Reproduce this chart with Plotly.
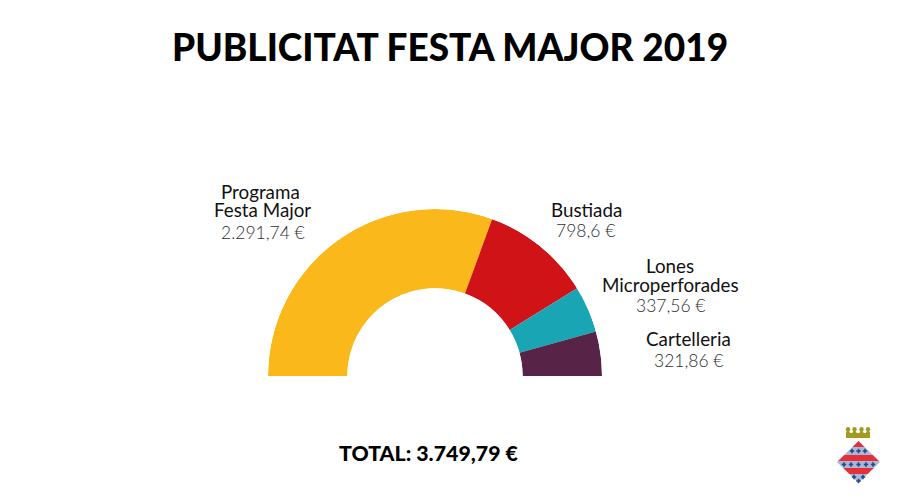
import numpy as np
import plotly.graph_objects as go

W, H = 900, 499
PAGE_MARGIN = 8  # the browser's body margin pushes the figure right and down

categories = ['Programa Festa Major', 'Bustiada', 'Lones Microperforades', 'Cartelleria']
values = [2291.74, 798.6, 337.56, 321.86]
value_labels = ['2.291,74 €', '798,6 €', '337,56 €', '321,86 €']
colors = ['#fbb81b', '#d01317', '#1aa5b4', '#572347']
title_text = 'PUBLICITAT FESTA MAJOR 2019'
total_text = 'TOTAL: 3.749,79 €'

# half donut: the slices share 180 degrees
spans = np.array(values) / sum(values) * 180
centers = np.cumsum(spans) - spans / 2


def fx(x):
    return (x - PAGE_MARGIN) / W


def fy(y):
    return 1 - (y - PAGE_MARGIN) / H


fig = go.Figure(go.Barpolar(
    r=[1] * len(values),
    theta=centers,
    width=spans,
    text=categories,
    marker=dict(color=colors, line=dict(width=0)),
    hoverinfo='text',
))

fig.update_layout(
    width=W, height=H, showlegend=False,
    paper_bgcolor='white',
    margin=dict(l=0, r=0, t=0, b=0),
    polar=dict(
        domain=dict(x=[fx(268), fx(602)], y=[fy(376), fy(209)]),
        sector=[0, 180],
        hole=0.525,
        bgcolor='white',
        radialaxis=dict(visible=False, range=[0, 1]),
        angularaxis=dict(visible=False, direction='clockwise', rotation=180),
    ),
)


def note(text, x, y, size, color='#111111', weight=400):
    fig.add_annotation(text=text, x=fx(x), y=fy(y), xref='paper', yref='paper',
                       showarrow=False, xanchor='center', yanchor='middle',
                       font=dict(family='Lato', size=size, color=color, weight=weight))


VALUE_COLOR = '#2e2e32'

note(title_text, 450, 47, 37, '#000000', 900)
note(total_text, 429, 453, 21.3, '#000000', 900)

# label lines
note('Programa', 261, 192, 18.8)
note('Festa Major', 262, 210, 18.8)
note(value_labels[0], 263, 232, 17.5, VALUE_COLOR, 300)
note('Bustiada', 586, 210, 18.8)
note(value_labels[1], 585, 230, 17.5, VALUE_COLOR, 300)
note('Lones', 670, 265, 18.8)
note('Microperforades', 670, 284, 18.8)
note(value_labels[2], 670, 305, 17.5, VALUE_COLOR, 300)
note('Cartelleria', 688, 338, 18.8)
note(value_labels[3], 688, 360, 17.5, VALUE_COLOR, 300)


# coat of arms, drawn in page pixels
def poly(points, color):
    path = 'M' + ' L'.join(f'{fx(x):.4f},{fy(y):.4f}' for x, y in points) + ' Z'
    fig.add_shape(type='path', path=path, xref='paper', yref='paper',
                  fillcolor=color, line_width=0)


def band(y0, y1, color):
    cx, cy, half_w, half_h = 858.5, 462, 21.5, 21
    pts = []
    for y in [y0, y1]:
        d = half_w * (1 - abs(y - cy) / half_h)
        pts.append((cx - d, y))
    if y0 < cy < y1:
        pts.insert(1, (cx - half_w, cy))
    right = [(2 * cx - x, y) for x, y in reversed(pts)]
    poly(pts + right, color)


def cross(x, y):
    poly([(x - 2.2, y - 0.8), (x + 2.2, y - 0.8), (x + 2.2, y + 0.8), (x - 2.2, y + 0.8)], '#1f4a8c')
    poly([(x - 0.8, y - 2.2), (x + 0.8, y - 2.2), (x + 0.8, y + 2.2), (x - 0.8, y + 2.2)], '#1f4a8c')


band(441, 447, '#e5303a')
band(447, 455, '#a9b8d6')
band(455, 461, '#e5303a')
band(461, 468, '#a9b8d6')
band(468, 474, '#e5303a')
band(474, 483, '#a9b8d6')

for cx_, cy_ in [(852, 451), (858.5, 451), (865, 451),
                 (844, 464.5), (851, 464.5), (858.5, 464.5), (866, 464.5), (873, 464.5),
                 (854, 477), (863, 477), (858.5, 481)]:
    cross(cx_, cy_)

poly([(846, 433), (870, 433), (870, 438), (846, 438)], '#a39a22')
for bx in [848, 854.5, 861.5, 868]:
    fig.add_shape(type='circle', xref='paper', yref='paper',
                  x0=fx(bx - 2.2), x1=fx(bx + 2.2),
                  y0=fy(431.4), y1=fy(427),
                  fillcolor='#a39a22', line_width=0)
    poly([(bx - 2.2, 433), (bx + 2.2, 433), (bx, 429)], '#a39a22')

fig.write_html('out.html')
